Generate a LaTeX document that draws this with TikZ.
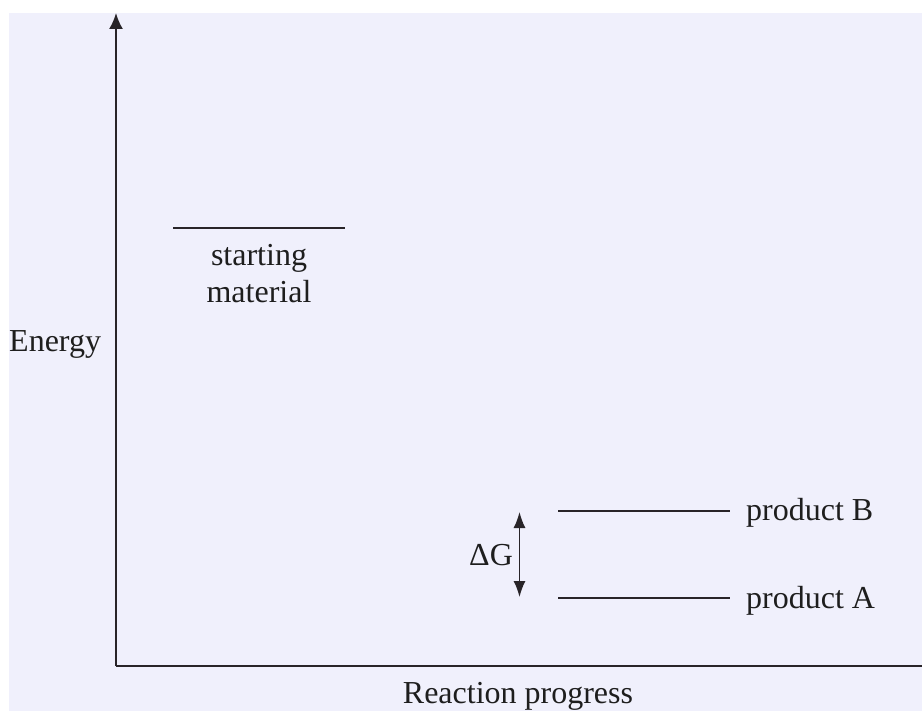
\documentclass[tikz,border=0pt]{standalone}
\usepackage{fontspec}
\setmainfont{Liberation Serif}
\usetikzlibrary{arrows.meta}
\definecolor{bgc}{RGB}{240,240,252}
\definecolor{inkc}{RGB}{40,36,40}
\definecolor{txtc}{RGB}{30,30,30}
\begin{document}
\begin{tikzpicture}[x=1pt,y=-1pt,
  lbl/.style={inner sep=0pt,text=txtc,font=\fontsize{32}{38}\selectfont},
  axisline/.style={draw=inkc,line width=2pt},
  level/.style={draw=inkc,line width=2pt},
  bigtip/.style={-{Latex[length=16pt,width=14pt]}},
  dgtip/.style={{Latex[length=16pt,width=12pt]}-{Latex[length=16pt,width=12pt]}}]
\useasboundingbox (0,0) rectangle (922,711);
\fill[bgc] (9,13) rectangle (922,711);
% axes
\coordinate (O) at (116,666);
\coordinate (ytop) at (116,13);
\coordinate (xend) at (922,666);
\draw[axisline,bigtip] (O) -- (ytop);
\draw[axisline] (O) -- (xend);
% levels
\coordinate (s1) at (173,228); \coordinate (s2) at (345,228);
\coordinate (b1) at (558,511); \coordinate (b2) at (730,511);
\coordinate (a1) at (558,598); \coordinate (a2) at (730,598);
\draw[level] (s1) -- (s2);
\draw[level] (b1) -- (b2);
\draw[level] (a1) -- (a2);
% delta G arrow
\coordinate (dgt) at (519.5,512);
\coordinate (dgb) at (519.5,597);
\draw[draw=inkc,line width=1.5pt,dgtip] (dgt) -- (dgb);
% labels
\node[lbl,anchor=base] (st) at (259,266) {starting};
\node[lbl,anchor=base] (mat) at (259,303) {material};
\node[lbl,anchor=base west] (en) at (9,352) {Energy};
\node[lbl,anchor=base] (rp) at (518,703) {Reaction progress};
\node[lbl,anchor=base west] (pb) at (746,520) {product B};
\node[lbl,anchor=base west] (pa) at (746,608) {product A};
\node[lbl,anchor=base west] (dg) at (469,565) {ΔG};
\end{tikzpicture}
\end{document}
